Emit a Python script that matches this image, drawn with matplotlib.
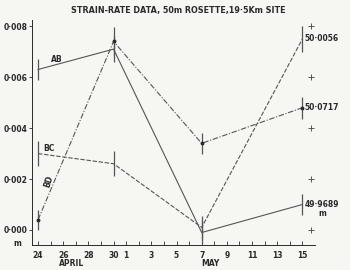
import matplotlib.pyplot as plt
import numpy as np

# day index: 0 = 24 April, 7 = 1 May, 21 = 15 May
days = [0, 6, 13, 21]
ab = [0.0063, 0.0071, -0.0001, 0.0010]
bc = [0.0030, 0.0026, 0.0001, 0.0075]
bd = [0.0004, 0.0074, 0.0034, 0.0048]
ab_err = [0.00043, 0.0005, 0.00045, 0.00042]
bc_err = [0.0005, 0.0005, 0.00045, 0.0005]
bd_err = [0.0004, 0.00057, 0.0004, 0.00043]

tick_days = [0, 2, 4, 6, 7, 9, 11, 13, 15, 17, 19, 21]
tick_labels = ["24", "26", "28", "30", "1", "3", "5", "7", "9", "11", "13", "15"]
y_ticks = [0.0, 0.002, 0.004, 0.006, 0.008]
y_labels = ["0·000", "0·002", "0·004", "0·006", "0·008"]
end_labels = ["49·9689", "50·0717", "50·0056"]
end_values = [ab[-1], bd[-1], bc[-1]]

ink = "#2a2a2a"
line = "#555555"
bg = "#f6f6f3"

fig = plt.figure(figsize=(3.5, 2.7), dpi=100, facecolor=bg)
ax = fig.add_axes([0.0914, 0.0926, 0.8086, 0.833], facecolor=bg)

ax.plot(days, ab, color=line, lw=0.8, ls="-")
ax.plot(days, bc, color=line, lw=0.8, ls=(0, (4, 1.5)))
ax.plot(days, bd, color=line, lw=0.8, ls=(0, (5, 1.5, 1, 1.5)))
for vals, err in [(ab, ab_err), (bc, bc_err), (bd, bd_err)]:
    ax.errorbar(days, vals, yerr=err, fmt="none", ecolor=line, elinewidth=0.9, capsize=0)
ax.plot([days[1], days[2], days[3]], [bd[1], bd[2], bd[3]], "o", color=ink, ms=1.8)
ax.plot([days[0]], [bd[0]], "o", color=ink, ms=1.8)
ax.plot([21.7] * len(y_ticks), y_ticks, "+", color=line, ms=4, mew=0.7)

ax.set_xlim(-0.48, 22.0)
ax.set_ylim(-0.00059, 0.00824)
ax.set_xticks(tick_days)
ax.set_xticklabels(tick_labels)
ax.set_xticks(np.arange(0, 22), minor=True)
ax.set_yticks(y_ticks)
ax.set_yticklabels(y_labels)
ax.tick_params(axis="x", which="both", direction="in", length=3, width=0.6, colors=ink,
               labelsize=5.5, pad=4)
ax.tick_params(axis="y", direction="out", length=2, width=0.6, colors=ink, labelsize=5.5, pad=1)
for lab in ax.get_xticklabels() + ax.get_yticklabels():
    lab.set_fontweight("bold")
for s in ["top", "right"]:
    ax.spines[s].set_visible(False)
for s in ["left", "bottom"]:
    ax.spines[s].set_color(ink)
    ax.spines[s].set_linewidth(0.7)

kw = dict(color=ink, fontsize=5.5, fontweight="bold")
ax.text(1.0, ab[0] + 0.0003, "AB", **kw)
ax.text(0.4, bc[0] + 0.0001, "BC", **kw)
ax.text(0.4, 0.0017, "BD", rotation=72, **kw)
for lab, v in zip(end_labels, end_values):
    ax.text(21.15, v, lab, va="center", **kw)
ax.text(22.3, 0.00055, "m", **kw)

fig.text(13 / 350, 1 - 243 / 270, "m", ha="left", va="center", **kw)
fig.text(72 / 350, 1 - 264 / 270, "APRIL", ha="center", va="center", **kw)
fig.text(210 / 350, 1 - 264 / 270, "MAY", ha="center", va="center", **kw)
fig.text(178 / 350, 1 - 10 / 270, "STRAIN-RATE DATA, 50m ROSETTE,19·5Km SITE",
         ha="center", va="center", color=ink, fontsize=5.8, fontweight="bold")

fig.savefig("out.png", dpi=100, facecolor=bg)
